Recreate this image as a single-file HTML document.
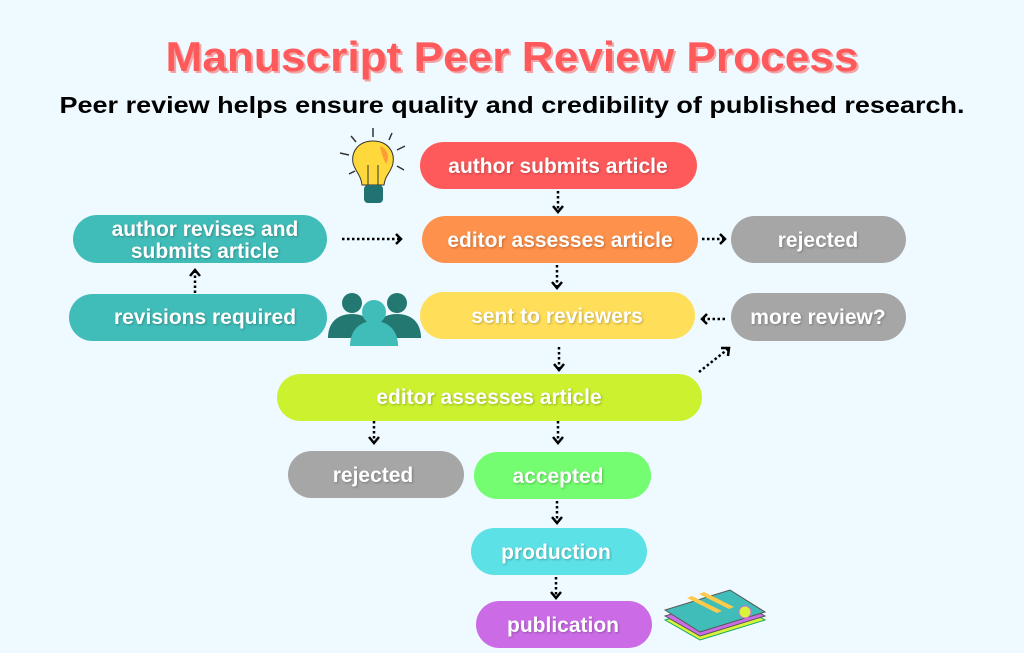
<!DOCTYPE html>
<html><head><meta charset="utf-8"><style>
html,body{margin:0;padding:0;background:#eefaff;}
svg{display:block}
text{font-family:"Liberation Sans",sans-serif;font-weight:bold;}
.b{fill:#fff;font-size:21px;text-anchor:middle;filter:drop-shadow(1px 1px 1px rgba(0,0,0,0.25));}
.d{stroke:#000;stroke-width:2.5;stroke-dasharray:2.5 2.5;fill:none}
.h{stroke:#000;stroke-width:2.5;fill:none}
</style></head><body>
<svg width="1024" height="653" viewBox="0 0 1024 653">
<rect width="1024" height="653" fill="#eefaff"/>
<text x="512" y="71" font-size="42" fill="#f4a4a4" text-anchor="middle" textLength="693" lengthAdjust="spacingAndGlyphs" dx="2" dy="2">Manuscript Peer Review Process</text>
<text x="512" y="71" font-size="42" fill="#fe5a5c" text-anchor="middle" textLength="693" lengthAdjust="spacingAndGlyphs">Manuscript Peer Review Process</text>
<text x="512" y="113" font-size="23" fill="#000" text-anchor="middle" textLength="905" lengthAdjust="spacingAndGlyphs">Peer review helps ensure quality and credibility of published research.</text>

<rect x="420" y="142" width="277" height="47" rx="23.5" fill="#fe5a5c"/>
<text class="b" x="558" y="173">author submits article</text>
<rect x="422" y="216" width="276" height="47" rx="23.5" fill="#fe914b"/>
<text class="b" x="560" y="247">editor assesses article</text>
<rect x="731" y="216" width="175" height="47" rx="23.5" fill="#a6a6a6"/>
<text class="b" x="818" y="247">rejected</text>
<rect x="73" y="215" width="254" height="48" rx="24" fill="#41bdb9"/>
<text class="b" x="205" y="236">author revises and</text>
<text class="b" x="205" y="258">submits article</text>
<rect x="69" y="294" width="258" height="47" rx="23.5" fill="#41bdb9"/>
<text class="b" x="205" y="324">revisions required</text>
<rect x="420" y="292" width="275" height="47" rx="23.5" fill="#ffde59"/>
<text class="b" x="557" y="323">sent to reviewers</text>
<rect x="731" y="293" width="175" height="48" rx="24" fill="#a6a6a6"/>
<text class="b" x="818" y="324">more review?</text>
<rect x="277" y="374" width="425" height="47" rx="23.5" fill="#cbf12f"/>
<text class="b" x="489" y="404">editor assesses article</text>
<rect x="288" y="451" width="176" height="47" rx="23.5" fill="#a6a6a6"/>
<text class="b" x="373" y="482">rejected</text>
<rect x="474" y="452" width="177" height="47" rx="23.5" fill="#74fd70"/>
<text class="b" x="558" y="483">accepted</text>
<rect x="471" y="528" width="176" height="47" rx="23.5" fill="#5ce1e6"/>
<text class="b" x="556" y="559">production</text>
<rect x="476" y="601" width="176" height="47" rx="23.5" fill="#cb6ce6"/>
<text class="b" x="563" y="632">publication</text>

<path class="d" d="M558 191V211"/><path class="h" d="M553 206l5 6 5-6"/>
<path class="d" d="M557 265V287"/><path class="h" d="M552 282l5 6 5-6"/>
<path class="d" d="M559 347V369"/><path class="h" d="M554 364l5 6 5-6"/>
<path class="d" d="M374 421V442"/><path class="h" d="M369 437l5 6 5-6"/>
<path class="d" d="M558 421V442"/><path class="h" d="M553 437l5 6 5-6"/>
<path class="d" d="M557 501V522"/><path class="h" d="M552 517l5 6 5-6"/>
<path class="d" d="M556 577V597"/><path class="h" d="M551 592l5 6 5-6"/>
<path class="d" d="M342 239H400"/><path class="h" d="M396 234l5 5-5 5"/>
<path class="d" d="M702 239H724"/><path class="h" d="M720 234l5 5-5 5"/>
<path class="d" d="M725 319H703"/><path class="h" d="M707 314l-5 5 5 5"/>
<path class="d" d="M195 293V272"/><path class="h" d="M190 276l5-6 5 6"/>
<path class="d" d="M699 372L728 349"/><path class="h" d="M721 348l8 0-1 8"/>

<g>
<g stroke="#333" stroke-width="1.5">
<line x1="373" y1="128" x2="373" y2="137"/><line x1="351" y1="136" x2="356" y2="142"/><line x1="392" y1="133" x2="389" y2="140"/>
<line x1="340" y1="153" x2="349" y2="155"/><line x1="405" y1="146" x2="397" y2="150"/>
<line x1="349" y1="174" x2="355" y2="171"/><line x1="404" y1="170" x2="397" y2="166"/>
</g>
<path d="M373 141c-14 0-22 10-20 22 2 8 8 12 9 22h22c1-10 8-14 9-22 2-12-6-22-20-22z" fill="#ffd93b" stroke="#333" stroke-width="1"/>
<path d="M380 146c8 3 10 12 6 18-3-6-5-12-6-18z" fill="#ff9d3b"/>
<path d="M368 185v-20M378 185v-20" stroke="#333" stroke-width="1"/>
<rect x="364" y="185" width="19" height="18" rx="4" fill="#207370"/>
</g>
<g>
<circle cx="352" cy="303" r="10" fill="#247872"/><path d="M328 338c0-16 10-24 24-24s24 8 24 24z" fill="#247872"/>
<circle cx="397" cy="303" r="10" fill="#247872"/><path d="M373 338c0-16 10-24 24-24s24 8 24 24z" fill="#247872"/>
<circle cx="374" cy="312" r="12" fill="#41bdb9"/><path d="M350 346c0-16 10-25 24-25s24 9 24 25z" fill="#41bdb9"/>
</g>
<g transform="translate(665,590)">
<path d="M0 30l35 20 65-20-35-20z" fill="#d9f23a" stroke="#1a6" stroke-width="1"/>
<path d="M0 26l35 20 65-20-35-20z" fill="#cb6ce6" stroke="#555" stroke-width="1"/>
<path d="M0 20l35 22 65-20-35-22z" fill="#41bdb9" stroke="#555" stroke-width="1"/>
<path d="M22 8l30 15 5-2-30-15z" fill="#ffc94a"/>
<path d="M34 4l30 15 5-2-30-15z" fill="#ffc94a"/>
<circle cx="80" cy="22" r="6" fill="#d9f23a" stroke="#cb6ce6"/>
</g>
</svg>
</body></html>
